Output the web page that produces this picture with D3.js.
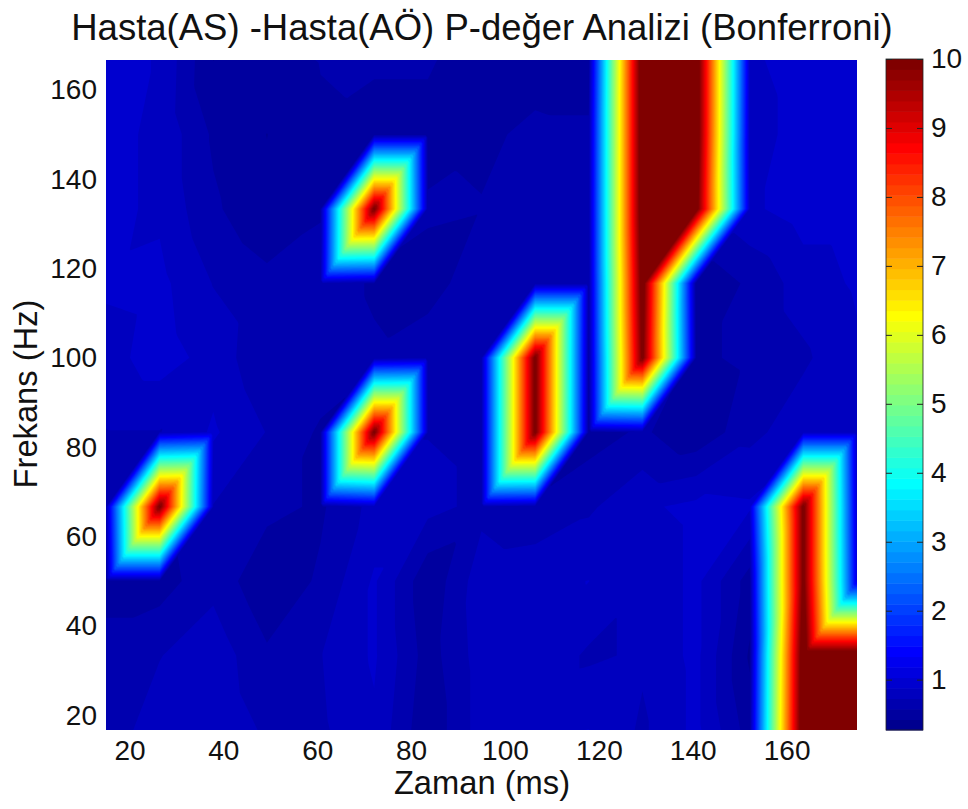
<!DOCTYPE html>
<html>
<head>
<meta charset="utf-8">
<script src="https://cdn.jsdelivr.net/npm/d3@7"></script>
<style>
    html, body { margin: 0; padding: 0; background: #fff; }
    text { font-family: "Liberation Sans", Arial, sans-serif; fill: #111; }
</style>
</head>
<body>
<div class="chartContainer"></div>
<script>
// grid of the original surface
var zamanMs = [15, 26.43, 37.86, 49.29, 60.71, 72.14, 83.57, 95, 106.43, 117.86, 129.29, 140.71, 152.14, 163.57, 175];
var frekansHz = [16.67, 33.33, 50, 66.67, 83.33, 100, 116.67, 133.33, 150, 166.67];

// one row per frequency, lowest frequency first
var pRow17 = [0.65, 0.80, 0.85, 0.70, 0.70, 0.85, 0.45, 0.80, 0.85, 0.88, 0.70, 0.92, 0.50, 10.6, 10.6];
var pRow33 = [0.65, 0.72, 0.82, 0.60, 0.72, 0.90, 0.50, 0.80, 0.85, 0.70, 0.75, 0.92, 0.40, 10.5, 10.5];
var pRow50 = [0.50, 0.50, 0.68, 0.45, 0.60, 0.90, 0.45, 0.82, 0.85, 0.88, 0.75, 0.92, 0.50, 10.1, 1.05];
var pRow67 = [0.65, 10.1, 0.72, 0.62, 0.55, 0.78, 0.78, 0.68, 0.60, 0.70, 0.85, 0.92, 0.90, 10.1, 0.95];
var pRow83 = [0.72, 0.72, 0.90, 0.72, 0.55, 10.1, 0.72, 0.68, 10.1, 0.50, 0.60, 0.45, 0.68, 0.82, 0.82];
var pRow100 = [0.82, 0.95, 0.82, 0.60, 0.68, 0.60, 0.68, 0.68, 10.1, 0.55, 10.1, 0.55, 0.60, 0.70, 0.85];
var pRow117 = [0.90, 0.92, 0.72, 0.62, 0.68, 0.55, 0.50, 0.68, 0.60, 0.60, 10.3, 0.45, 0.60, 0.80, 0.90];
var pRow133 = [0.92, 0.85, 0.60, 0.45, 0.55, 10.1, 0.60, 0.58, 0.60, 0.62, 10.5, 10.3, 0.85, 0.95, 0.95];
var pRow150 = [0.92, 0.85, 0.55, 0.42, 0.55, 0.50, 0.50, 0.55, 0.60, 0.60, 10.5, 10.5, 0.80, 0.95, 0.95];
var pRow167 = [0.92, 0.87, 0.42, 0.52, 0.58, 0.60, 0.60, 0.45, 0.52, 0.50, 10.5, 10.5, 0.85, 0.95, 0.95];
var pRows = [pRow17, pRow33, pRow50, pRow67, pRow83, pRow100, pRow117, pRow133, pRow150, pRow167];

var xTicks = [20, 40, 60, 80, 100, 120, 140, 160];
var yTicks = [20, 40, 60, 80, 100, 120, 140, 160];
var cTicks = [1, 2, 3, 4, 5, 6, 7, 8, 9, 10];
var cMin = 0.27, cMax = 10, nColors = 64;

var w = 968, h = 809;
var left = 106, right = 857, top_ = 60, bottom = 730;
var barLeft = 886, barRight = 923;

var svg = d3.select(".chartContainer")
    .append("svg")
    .attr("width", w)
    .attr("height", h)
    .style("display", "block");

var x = d3.scaleLinear().domain([15, 175]).range([left, right]);
var y = d3.scaleLinear().domain([16.67, 166.67]).range([bottom, top_]);
var c = d3.scaleLinear().domain([cMin, cMax]).range([bottom, top_ - 1]);

// matlab jet, k is 0..nColors-1
function jet(k) {
    var t = (k + 1) / nColors;
    function ch(v) { return Math.round(255 * Math.max(0, Math.min(1, v))); }
    return d3.rgb(ch(1.5 - Math.abs(4 * t - 3)),
                  ch(1.5 - Math.abs(4 * t - 2)),
                  ch(1.5 - Math.abs(4 * t - 1))).formatHex();
}

// shading interp draws every cell as two triangles, diagonal going up to the right
var sub = 24;
var nx = (zamanMs.length - 1) * sub + 1;
var ny = (frekansHz.length - 1) * sub + 1;
var field = new Float64Array(nx * ny);
for (var j = 0; j < ny; j++) {
    var r = Math.min(Math.floor(j / sub), frekansHz.length - 2);
    var v = j / sub - r;
    for (var i = 0; i < nx; i++) {
        var q = Math.min(Math.floor(i / sub), zamanMs.length - 2);
        var u = i / sub - q;
        var ll = pRows[r][q], lr = pRows[r][q + 1], ul = pRows[r + 1][q], ur = pRows[r + 1][q + 1];
        field[j * nx + i] = v <= u
            ? ll + u * (lr - ll) + v * (ur - lr)
            : ll + v * (ul - ll) + u * (ur - ul);
    }
}

var band = (cMax - cMin) / nColors;
var thresholds = d3.range(1, nColors).map(function (k) { return cMin + k * band; });
var contours = d3.contours().size([nx, ny]).smooth(true).thresholds(thresholds)(field);

var fx = d3.scaleLinear().domain([0.5, nx - 0.5]).range([x(15), x(175)]);
var fy = d3.scaleLinear().domain([0.5, ny - 0.5]).range([y(16.67), y(166.67)]);
var path = d3.geoPath(d3.geoTransform({
    point: function (px, py) { this.stream.point(fx(px), fy(py)); }
}));

svg.append("clipPath").attr("id", "plotClip")
    .append("rect")
    .attr("x", left).attr("y", top_)
    .attr("width", right - left).attr("height", bottom - top_);

var plot = svg.append("g").attr("clip-path", "url(#plotClip)");
plot.append("rect")
    .attr("x", left).attr("y", top_)
    .attr("width", right - left).attr("height", bottom - top_)
    .attr("fill", jet(0));
plot.selectAll("path")
    .data(contours)
    .enter().append("path")
    .attr("d", path)
    .attr("fill", function (d, k) { return jet(k + 1); });

// axes
var xAxis = svg.append("g")
    .attr("transform", "translate(0," + bottom + ")")
    .call(d3.axisBottom(x).tickValues(xTicks).tickSize(0).tickPadding(10));
var yAxis = svg.append("g")
    .attr("transform", "translate(" + left + ",0)")
    .call(d3.axisLeft(y).tickValues(yTicks).tickSize(0).tickPadding(9));
xAxis.select(".domain").remove();
yAxis.select(".domain").remove();
svg.selectAll("g .tick text")
    .style("font-family", '"Liberation Sans", Arial, sans-serif')
    .style("font-size", "28px")
    .attr("fill", "#111");

// colorbar
var bar = svg.append("g");
bar.selectAll("rect")
    .data(d3.range(nColors))
    .enter().append("rect")
    .attr("x", barLeft)
    .attr("width", barRight - barLeft)
    .attr("y", function (k) { return c(cMin + (k + 1) * band); })
    .attr("height", function (k) { return c(cMin + k * band) - c(cMin + (k + 1) * band) + 0.5; })
    .attr("fill", function (k) { return jet(k); });
bar.append("rect")
    .attr("x", barLeft).attr("y", top_ - 1)
    .attr("width", barRight - barLeft).attr("height", bottom - top_ + 1)
    .attr("fill", "none")
    .attr("stroke", "#222")
    .attr("stroke-width", 0.8);

var cAxis = svg.append("g")
    .attr("transform", "translate(" + barRight + ",0)")
    .call(d3.axisRight(c).tickValues(cTicks).tickFormat(d3.format("d")).tickSize(-6).tickPadding(8));
cAxis.select(".domain").remove();
cAxis.selectAll("line").attr("stroke", "#222");
cAxis.selectAll("text")
    .style("font-family", '"Liberation Sans", Arial, sans-serif')
    .style("font-size", "28px")
    .attr("fill", "#111");
svg.selectAll(null)
    .data(cTicks)
    .enter().append("line")
    .attr("x1", barLeft).attr("x2", barLeft + 6)
    .attr("y1", function (d) { return c(d) + 0.5; })
    .attr("y2", function (d) { return c(d) + 0.5; })
    .attr("stroke", "#222");

// titles
svg.append("text")
    .attr("x", 482).attr("y", 40)
    .attr("text-anchor", "middle")
    .style("font-size", "36.5px")
    .text("Hasta(AS) -Hasta(AÖ) P-değer Analizi (Bonferroni)");
svg.append("text")
    .attr("x", 482).attr("y", 794)
    .attr("text-anchor", "middle")
    .style("font-size", "32.7px")
    .text("Zaman (ms)");
svg.append("text")
    .attr("transform", "translate(37,394) rotate(-90)")
    .attr("text-anchor", "middle")
    .style("font-size", "32.7px")
    .text("Frekans (Hz)");
</script>
</body>
</html>
